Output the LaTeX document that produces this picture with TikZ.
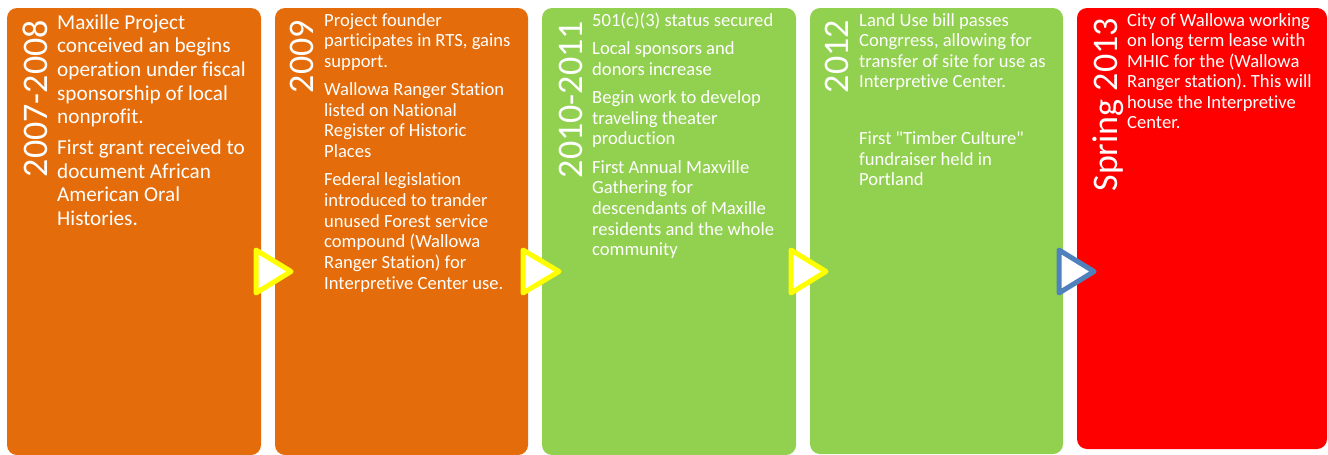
\documentclass[tikz,border=0pt]{standalone}
\usepackage{fontspec}
\newfontfamily\cf{Carlito}[Ligatures={NoCommon,NoContextual}]
\frenchspacing
\definecolor{orng}{HTML}{E46C0A}
\definecolor{grn}{HTML}{92D050}
\definecolor{rd}{HTML}{FF0000}
\definecolor{ylw}{HTML}{FFFF00}
\definecolor{blu}{HTML}{4F81BD}
\newcommand{\bigtxt}[1]{\parbox[t]{260pt}{\raggedright\cf\fontsize{21.2}{23.6}\selectfont\setlength{\parskip}{7.3pt}#1}}
\newcommand{\smtxt}[1]{\parbox[t]{260pt}{\raggedright\cf\fontsize{18.6}{20.6}\selectfont\setlength{\parskip}{7.9pt}#1}}
\tikzset{
  panel/.style={rounded corners=10pt},
  year/.style={rotate=90, anchor=base east, inner sep=0pt, text=white, font=\cf\fontsize{36}{40}\selectfont},
  body/.style={anchor=base west, inner sep=0pt, text=white},
  chev/.style={line width=5pt, line join=round, fill=white}
}
\begin{document}
\begin{tikzpicture}[x=1pt,y=-1pt]
\useasboundingbox (0,0) rectangle (1328,455);
% panels
\fill[panel, orng] (7,8) rectangle (261,455);
\fill[panel, orng] (275,8) rectangle (528,455);
\fill[panel, grn] (542,8) rectangle (796,455);
\fill[panel, grn] (810,8) rectangle (1063,454);
\fill[panel, rd] (1077,8) rectangle (1327,449);
% years
\node[year] (y1) at (47,20) {2007-2008};
\node[year] (y2) at (313,20) {2009};
\node[year] (y3) at (582,21) {2010-2011};
\node[year] (y4) at (848,20) {2012};
\node[year] (y5) at (1117,18) {Spring 2013};
% bodies
\node[body] (t1) at (57,29.3) {\bigtxt{Maxille Project\\conceived an begins\\operation under fiscal\\sponsorship of local\\nonprofit.\par First grant received to\\document African\\American Oral\\Histories.}};
\node[body] (t2) at (324,26) {\smtxt{Project founder\\participates in RTS, gains\\support.\par Wallowa Ranger Station\\listed on National\\Register of Historic\\Places\par Federal legislation\\introduced to trander\\unused Forest service\\compound (Wallowa\\Ranger Station) for\\Interpretive Center use.}};
\node[body] (t3) at (592,26) {\smtxt{501(c)(3) status secured\par Local sponsors and\\donors increase\par Begin work to develop\\traveling theater\\production\par First Annual Maxville\\Gathering for\\descendants of Maxille\\residents and the whole\\community}};
\node[body] (t4) at (859,26) {\smtxt{Land Use bill passes\\Congrress, allowing for\\transfer of site for use as\\Interpretive Center.\par\mbox{}\par First "Timber Culture"\\fundraiser held in\\Portland}};
\node[body] (t5) at (1127,26) {\smtxt{City of Wallowa working\\on long term lease with\\MHIC for the (Wallowa\\Ranger station). This will\\house the Interpretive\\Center.}};
% chevrons
\draw[chev, draw=ylw] (256,250) -- (291,271.5) -- (256,293) -- cycle;
\draw[chev, draw=ylw] (523,250) -- (559,271.5) -- (523,293) -- cycle;
\draw[chev, draw=ylw] (791,250) -- (826,271.5) -- (791,293) -- cycle;
\draw[chev, draw=blu] (1059,250) -- (1094,271.5) -- (1059,293) -- cycle;
\end{tikzpicture}
\end{document}
